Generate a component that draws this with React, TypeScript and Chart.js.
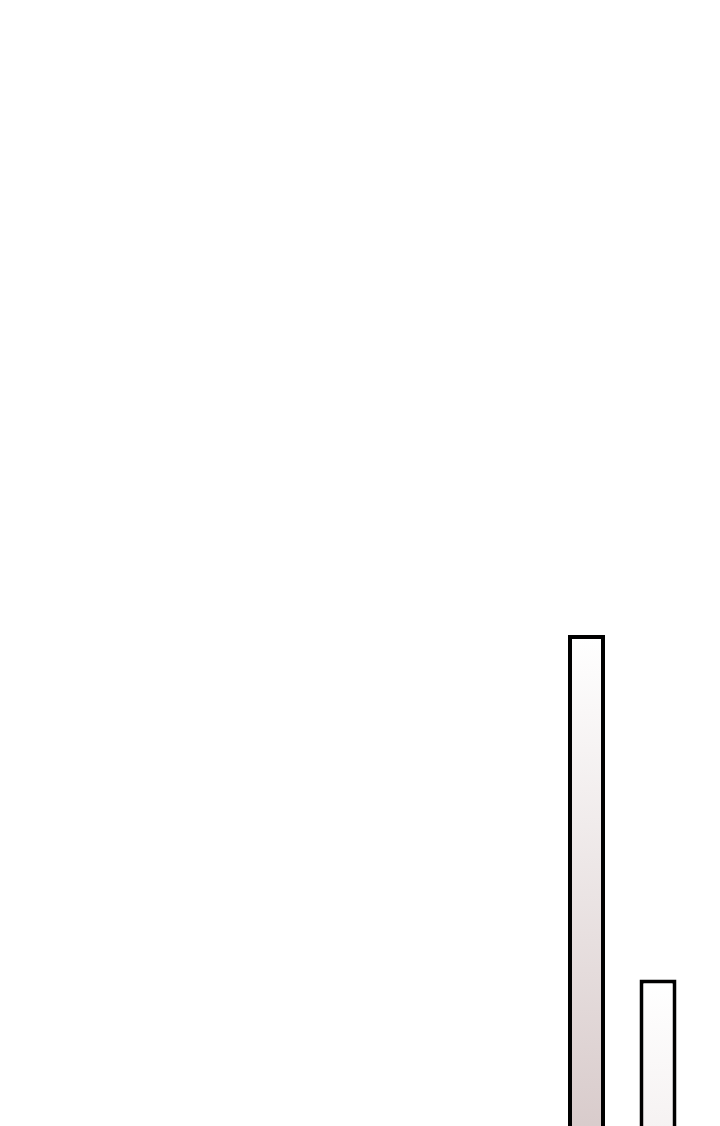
import React, { useEffect, useRef } from "react";
import { Chart, registerables } from "chart.js";

Chart.register(...registerables);

const categories = ["A", "B"];
const values = [47.4, 18.5];
const baseColors = ["#d3c4c4", "#f1ecec"];
const yMax = 100;

export default function App() {
  const ref = useRef<HTMLCanvasElement | null>(null);

  useEffect(() => {
    if (!ref.current) return;
    const chart = new Chart(ref.current, {
      type: "bar",
      data: {
        labels: categories,
        datasets: [
          {
            data: values,
            backgroundColor: (ctx: any) => {
              const c = ctx.chart;
              if (!c.chartArea || !c.scales.y) return "#ffffff";
              const y = c.scales.y;
              const v = typeof ctx.raw === "number" ? ctx.raw : 0;
              const top = y.getPixelForValue(v);
              const base = y.getPixelForValue(0);
              if (!isFinite(top) || !isFinite(base) || top === base) return "#ffffff";
              const g = c.ctx.createLinearGradient(0, top, 0, base);
              g.addColorStop(0, "#ffffff");
              g.addColorStop(1, baseColors[ctx.dataIndex % baseColors.length]);
              return g;
            },
            borderColor: "#000000",
            borderWidth: 4,
            borderSkipped: false,
            categoryPercentage: 0.69,
            barPercentage: 0.75,
          },
        ],
      },
      options: {
        animation: false,
        responsive: true,
        maintainAspectRatio: false,
        layout: { padding: { left: 542.75, right: 18.25, top: 0, bottom: 0 } },
        plugins: {
          legend: { display: false },
          tooltip: { enabled: false },
          title: { display: false },
        },
        scales: {
          x: { display: false },
          y: { display: false, min: 0, max: yMax },
        },
      },
    });
    return () => chart.destroy();
  }, []);

  return (
    <div style={{ width: 704, height: 1192, position: "relative" }}>
      <canvas ref={ref} />
    </div>
  );
}
